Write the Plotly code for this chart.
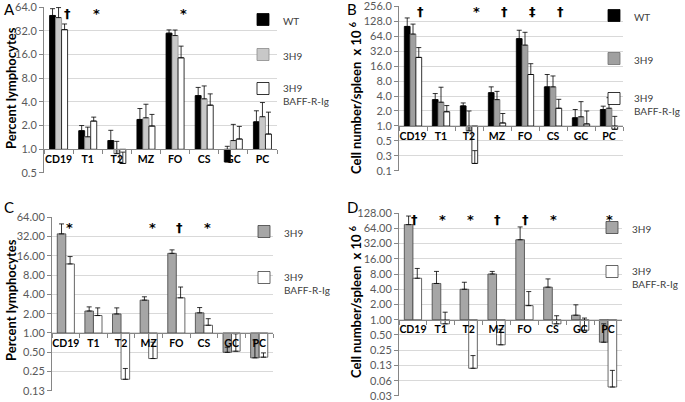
import math
import plotly.graph_objects as go

W, H = 685, 402

categories = ["CD19", "T1", "T2", "MZ", "FO", "CS", "GC", "PC"]

# Panel A: percent lymphocytes
wt_pct = [50, 1.72, 1.29, 2.39, 29.8, 4.8, 0.69, 2.23]
wt_pct_err = [11, 0.28, 0.45, 0.9, 3.0, 1.3, 0.4, 0.85]
h9_pct = [47, 1.44, 0.88, 2.51, 27.8, 4.37, 1.29, 2.59]
h9_pct_err = [16, 0.47, 0.38, 1.22, 4.9, 2.0, 0.78, 1.33]
baff_pct = [33, 2.28, 0.66, 1.97, 14.5, 3.63, 1.35, 1.56]
baff_pct_err = [6, 0.28, 0.26, 0.8, 5.9, 1.42, 0.6, 1.4]

# Panel B: cell number / spleen x 10^6
wt_num = [99.6, 3.38, 2.53, 4.66, 56.6, 6.1, 1.46, 2.14]
wt_num_err = [48, 1.1, 0.37, 1.44, 27, 4.7, 0.68, 0.36]
h9_num = [70, 3.0, 0.8, 3.38, 42, 6.1, 1.53, 2.27]
h9_num_err = [41, 3.0, 1.2, 1.57, 34, 4.0, 1.55, 1.43]
baff_num = [23.8, 1.93, 0.177, 1.15, 10.8, 2.27, 1.1, 0.86]
baff_num_err = [13.7, 0.64, 0.143, 0.63, 7.0, 1.16, 0.9, 0.7]

# Panel C: percent lymphocytes (3H9 vs 3H9 BAFF-R-Ig)
h9_pct_c = [35, 2.2, 1.98, 3.25, 17.4, 2.06, 0.5, 0.41]
h9_pct_c_err = [15, 0.35, 0.48, 0.41, 2.3, 0.43, 0.1, 0.37]
baff_pct_c = [11.9, 1.87, 0.19, 0.40, 3.53, 1.32, 0.52, 0.42]
baff_pct_c_err = [3.6, 0.59, 0.09, 0.32, 1.67, 0.35, 0.45, 0.07]

# Panel D: cell number / spleen x 10^6 (3H9 vs 3H9 BAFF-R-Ig)
h9_num_d = [75.6, 5.2, 4.0, 8.0, 38, 4.4, 1.23, 0.36]
h9_num_d_err = [36, 3.8, 1.5, 1.0, 30, 2.0, 0.74, 0.47]
baff_num_d = [6.6, 0.83, 0.11, 0.32, 1.9, 0.83, 0.62, 0.047]
baff_num_d_err = [3.7, 0.58, 0.086, 0.33, 1.7, 0.37, 0.46, 0.053]

ticks_a = [0.5, 1, 2, 4, 8, 16, 32, 64]
ticks_a_text = ["0.5", "1.0", "2.0", "4.0", "8.0", "16.0", "32.0", "64.0"]
ticks_b = [0.125, 0.25, 0.5, 1, 2, 4, 8, 16, 32, 64, 128, 256]
ticks_b_text = ["0.1", "0.3", "0.5", "1.0", "2.0", "4.0", "8.0", "16.0", "32.0", "64.0", "128.0", "256.0"]
ticks_c = [0.125, 0.25, 0.5, 1, 2, 4, 8, 16, 32, 64]
ticks_c_text = ["0.13", "0.25", "0.50", "1.00", "2.00", "4.00", "8.00", "16.00", "32.00", "64.00"]
ticks_d = [0.03125, 0.0625, 0.125, 0.25, 0.5, 1, 2, 4, 8, 16, 32, 64, 128]
ticks_d_text = ["0.03", "0.06", "0.13", "0.25", "0.50", "1.00", "2.00", "4.00", "8.00", "16.00", "32.00", "64.00", "128.00"]

marks_a = {"CD19": "†", "T1": "*", "FO": "*"}
marks_b = {"CD19": "†", "T2": "*", "MZ": "†", "FO": "‡", "CS": "†"}
marks_c = {"CD19": "*", "MZ": "*", "FO": "†", "CS": "*"}
marks_d = {"CD19": "†", "T1": "*", "T2": "*", "MZ": "†", "FO": "†", "CS": "*", "PC": "*"}

FONT = "Lato"
TICKC = "#595959"
GRID = "#d9d9d9"
AXL = "#868686"

# panel geometry in pixels
panels = {
    1: dict(x0=44, x1=277, yt=7, yb=173, lo=0.5, hi=64, tv=ticks_a, tt=ticks_a_text),
    2: dict(x0=399, x1=623, yt=6, yb=171, lo=0.125, hi=256, tv=ticks_b, tt=ticks_b_text),
    3: dict(x0=52, x1=273, yt=217, yb=391, lo=0.125, hi=64, tv=ticks_c, tt=ticks_c_text),
    4: dict(x0=399, x1=622, yt=213, yb=396, lo=0.03125, hi=128, tv=ticks_d, tt=ticks_d_text),
}

# legend text anchor offsets (px)
LEG_DY = 12.5
LEG_DX = 41
leg_pos = {}

fig = go.Figure()
_leg_count = [0]


def add_bars(n, name, vals, errs, fill, line, tx, ty):
    s = "" if n == 1 else str(n)
    _leg_count[0] += 1
    k = _leg_count[0]
    lname = "legend" if k == 1 else "legend%d" % k
    leg_pos[lname] = (tx, ty)
    fig.add_trace(go.Bar(
        x=categories, y=[v - 1 for v in vals], base=1,
        name=name, marker=dict(color=fill, line=dict(color=line, width=0.8)),
        error_y=dict(type="data", symmetric=False, array=errs,
                     arrayminus=[0] * len(errs), color="black", thickness=0.8, width=2.5),
        xaxis="x" + s, yaxis="y" + s, legend=lname,
    ))


add_bars(1, "WT", wt_pct, wt_pct_err, "#000000", "#000000", 284, 19)
add_bars(1, "3H9", h9_pct, h9_pct_err, "#c8c8c8", "#8c8c8c", 284, 54)
add_bars(1, "3H9<br>BAFF-R-Ig", baff_pct, baff_pct_err, "#ffffff", "#000000", 284, 88)

add_bars(2, "WT", wt_num, wt_num_err, "#000000", "#000000", 635, 15)
add_bars(2, "3H9", h9_num, h9_num_err, "#a0a0a0", "#707070", 635, 58)
add_bars(2, "3H9<br>BAFF-R-Ig", baff_num, baff_num_err, "#ffffff", "#000000", 635, 98)

add_bars(3, "3H9", h9_pct_c, h9_pct_c_err, "#a6a6a6", "#404040", 285, 231)
add_bars(3, "3H9<br>BAFF-R-Ig", baff_pct_c, baff_pct_c_err, "#ffffff", "#404040", 285, 277)

add_bars(4, "3H9", h9_num_d, h9_num_d_err, "#a6a6a6", "#404040", 633, 227)
add_bars(4, "3H9<br>BAFF-R-Ig", baff_num_d, baff_num_d_err, "#ffffff", "#404040", 633, 271)

layout = dict(
    width=W, height=H, margin=dict(l=0, r=0, t=0, b=0, autoexpand=False),
    paper_bgcolor="white", plot_bgcolor="rgba(0,0,0,0)",
    barmode="group", bargap=0.38, showlegend=True,
    font=dict(family=FONT, size=11, color="#404040"),
)

for n, p in panels.items():
    s = "" if n == 1 else str(n)
    dx = [p["x0"] / W, p["x1"] / W]
    dy = [1 - p["yb"] / H, 1 - p["yt"] / H]
    llo, lhi = math.log10(p["lo"]) - 0.0005, math.log10(p["hi"]) + 0.0005
    pos1 = dy[0] + (0 - llo) / (lhi - llo) * (dy[1] - dy[0])
    layout["xaxis" + s] = dict(
        domain=dx, type="category", anchor="free", position=pos1,
        showline=True, linecolor=AXL, linewidth=1, showgrid=False,
        ticks="outside", tickson="boundaries", ticklen=4, tickcolor=AXL,
        tickangle=0, ticklabeloverflow="allow",
        tickfont=dict(family=FONT, size=10.5, color="black", weight="bold"),
        fixedrange=True,
    )
    layout["yaxis" + s] = dict(
        domain=dy, type="log", range=[llo, lhi], anchor="x" + s,
        tickvals=p["tv"], ticktext=p["tt"],
        showline=True, linecolor=AXL, linewidth=1,
        showgrid=True, gridcolor=GRID, gridwidth=1,
        ticks="outside", ticklen=4, tickcolor=AXL, ticklabeloverflow="allow",
        tickfont=dict(family=FONT, size=11, color=TICKC),
        zeroline=False, fixedrange=True,
    )

for lname, (tx, ty) in leg_pos.items():
    layout[lname] = dict(
        x=(tx - LEG_DX) / W, y=1 - (ty - LEG_DY) / H,
        bgcolor="rgba(0,0,0,0)", font=dict(family=FONT, size=10, color="#404040"),
        xanchor="left", yanchor="top", valign="top", itemwidth=30,
    )

fig.update_layout(**layout)

annotations = []
offs = {1: 0.3, 2: 0.27, 3: 0.13, 4: 0.05}
mark_y = {1: 13, 2: 12, 3: 227, 4: 219}
for n, marks in zip([1, 2, 3, 4], [marks_a, marks_b, marks_c, marks_d]):
    s = "" if n == 1 else str(n)
    for cat, sym in marks.items():
        annotations.append(dict(
            x=categories.index(cat) + offs[n], y=1 - mark_y[n] / H,
            xref="x" + s, yref="paper", text=sym, showarrow=False,
            font=dict(family="DejaVu Sans", size=13, color="black", weight="bold"),
            xanchor="center", yanchor="middle",
        ))

for txt, x, y in [("A", 2, 9), ("B", 345, 9), ("C", 2, 207), ("D", 345, 207)]:
    annotations.append(dict(x=x / W, y=1 - y / H, xref="paper", yref="paper", text=txt,
                            showarrow=False, xanchor="left", yanchor="middle",
                            font=dict(family=FONT, size=15, color="black")))

for txt, x, y in [("Percent lymphocytes", 11, 88),
                  ("Cell number/spleen  x 10 <sup>6</sup>", 355, 98),
                  ("Percent lymphocytes", 11, 300),
                  ("Cell number/spleen  x 10 <sup>6</sup>", 355, 302)]:
    annotations.append(dict(x=x / W, y=1 - y / H, xref="paper", yref="paper", text=txt,
                            textangle=-90, showarrow=False, xanchor="center", yanchor="middle",
                            font=dict(family=FONT, size=13, color="black", weight="bold")))

fig.update_layout(annotations=annotations)

fig.write_html("out.html", config={"displayModeBar": False},
               post_script="document.body.style.margin='0px';")
